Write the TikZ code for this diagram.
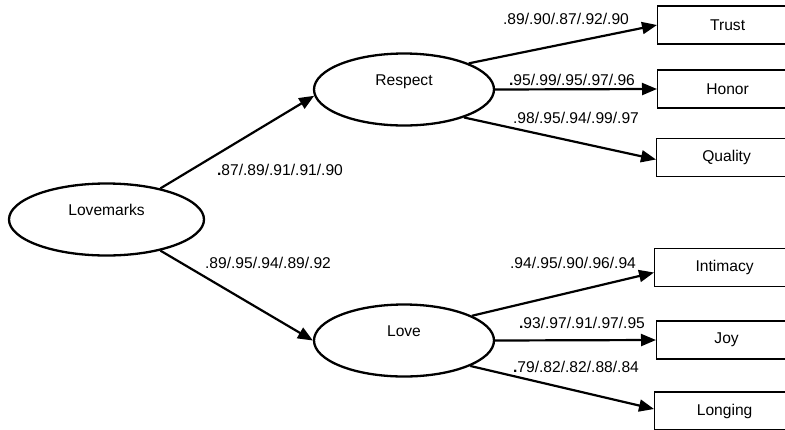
\documentclass[tikz,border=0pt]{standalone}
\usepackage{fontspec}
\setmainfont{Liberation Sans}
\usetikzlibrary{arrows.meta,shapes.geometric}
\begin{document}
\begin{tikzpicture}[x=1pt,y=-1pt,
  every node/.style={font=\fontsize{15.6}{18}\selectfont},
  latent/.style={ellipse, draw, line width=2.3pt, minimum height=72pt, inner sep=0pt, text height=11pt, text depth=20pt},
  obs/.style={rectangle, draw, line width=1.2pt, minimum width=140pt, minimum height=38pt, inner sep=0pt, anchor=west},
  arr/.style={line width=2.2pt, -{Triangle[length=15pt,width=12pt]}},
  coef/.style={inner sep=0pt}]
\useasboundingbox (0,0) rectangle (785,429);
\clip (0,0) rectangle (785,429);
\fill[white] (0,0) rectangle (785,429);

\node[latent, minimum width=195pt] (lm) at (106.5,219.5) {Lovemarks};
\node[latent, minimum width=180pt] (resp) at (404,89.5) {Respect};
\node[latent, minimum width=180pt] (love) at (404,340.5) {Love};

\node[obs] (trust) at (657,25) {Trust};
\node[obs] (honor) at (657,89) {Honor};
\node[obs] (quality) at (656,157.5) {Quality};
\node[obs] (intimacy) at (654,267.5) {Intimacy};
\node[obs] (joy) at (656,340) {Joy};
\node[obs] (longing) at (654,411) {Longing};

\draw[arr] (lm.30) -- (resp.184);
\draw[arr] (lm.-30) -- (love.west);
\draw[arr] (resp.22) -- (trust.west);
\draw[arr] (resp.east) -- (honor.west);
\draw[arr] (resp.-25) -- ([yshift=-2pt]quality.west);
\draw[arr] (love.20) -- ([yshift=-5pt]intimacy.west);
\draw[arr] (love.east) -- (joy.west);
\draw[arr] (love.-21) -- ([yshift=2pt]longing.west);

\node[coef] (c1) at (280,170) {{\bfseries .}87/.89/.91/.91/.90};
\node[coef] (c2) at (268,263) {.89/.95/.94/.89/.92};
\node[coef] (c3) at (566,19) {.89/.90/.87/.92/.90};
\node[coef] (c4) at (572,80) {{\bfseries .}95/.99/.95/.97/.96};
\node[coef] (c5) at (576,118) {.98/.95/.94/.99/.97};
\node[coef] (c6) at (573,263) {.94/.95/.90/.96/.94};
\node[coef] (c7) at (582,323) {{\bfseries .}93/.97/.91/.97/.95};
\node[coef] (c8) at (576,367) {{\bfseries .}79/.82/.82/.88/.84};
\end{tikzpicture}
\end{document}
